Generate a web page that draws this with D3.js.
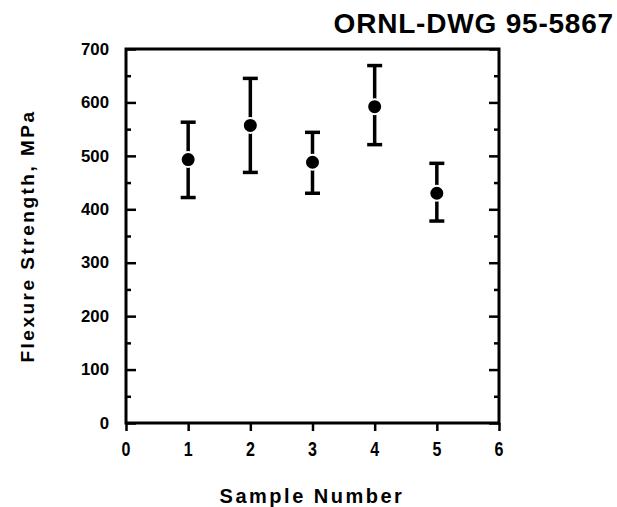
<!DOCTYPE html>
<html>
<head>
<meta charset="utf-8">
<script src="https://cdn.jsdelivr.net/npm/d3@7"></script>
<style>
  body { margin: 0; background: #fff; }
  text { font-family: "Liberation Sans", Arial, sans-serif; font-weight: bold; fill: #000; }
</style>
</head>
<body>
<div id="chart"></div>
<script>
// sample data
var samples = [1, 2, 3, 4, 5];
var strength = [493, 557, 488, 592, 430];
var upper = [563, 645, 544, 669, 486];
var lower = [422, 469, 430, 521, 378];

var xTicks = [0, 1, 2, 3, 4, 5, 6];
var yTicks = [0, 100, 200, 300, 400, 500, 600, 700];
var yMinor = [50, 150, 250, 350, 450, 550, 650];

var W = 617, H = 507;
// plot box edges (note: "top" is taken by window.top)
var plotL = 126, plotR = 499, plotT = 49, plotB = 423;

var svg = d3.select("#chart").append("svg")
    .attr("width", W)
    .attr("height", H);

var x = d3.scaleLinear().domain([0, 6]).range([plotL, plotR]);
var y = d3.scaleLinear().domain([0, 700]).range([plotB, plotT]);

function tickGroup(axis, tx, ty) {
  svg.append("g")
      .attr("transform", "translate(" + tx + "," + ty + ")")
      .call(axis)
      .call(g => g.select(".domain").remove())
      .selectAll("line").attr("stroke-width", 2.5);
}

// left axis, ticks pointing in
tickGroup(d3.axisRight(y).tickValues(yTicks).tickSize(10).tickFormat(""), plotL, 0);
tickGroup(d3.axisRight(y).tickValues(yMinor).tickSize(5).tickFormat(""), plotL, 0);
// right axis, ticks pointing in
tickGroup(d3.axisLeft(y).tickValues(yTicks).tickSize(10).tickFormat(""), plotR, 0);
tickGroup(d3.axisLeft(y).tickValues(yMinor).tickSize(5).tickFormat(""), plotR, 0);
// bottom ticks, small, pointing down
tickGroup(d3.axisBottom(x).tickValues(xTicks).tickSize(8).tickFormat(""), 0, plotB);

// frame
svg.append("rect")
    .attr("x", plotL)
    .attr("y", plotT)
    .attr("width", plotR - plotL)
    .attr("height", plotB - plotT)
    .attr("fill", "none")
    .attr("stroke", "#000")
    .attr("stroke-width", 3);

// tick labels
svg.selectAll(".ylab")
    .data(yTicks)
    .enter()
    .append("text")
    .attr("class", "ylab")
    .attr("text-anchor", "end")
    .attr("dy", "0.36em")
    .attr("font-size", 16)
    .attr("transform", d => "translate(109," + y(d) + ") scale(1.05,1)")
    .text(d => d);

svg.selectAll(".xlab")
    .data(xTicks)
    .enter()
    .append("text")
    .attr("class", "xlab")
    .attr("text-anchor", "middle")
    .attr("font-size", 20)
    .attr("transform", d => "translate(" + x(d) + ",456) scale(0.8,1)")
    .text(d => d);

// error bars
var bars = svg.append("g");
samples.forEach(function(s, i) {
  bars.append("line")
      .attr("x1", x(s)).attr("x2", x(s))
      .attr("y1", y(upper[i])).attr("y2", y(lower[i]))
      .attr("stroke", "#000").attr("stroke-width", 3.5);
  [upper[i], lower[i]].forEach(function(v) {
    bars.append("line")
        .attr("x1", x(s) - 7.5).attr("x2", x(s) + 7.5)
        .attr("y1", y(v)).attr("y2", y(v))
        .attr("stroke", "#000").attr("stroke-width", 3.5);
  });
});

// points
svg.selectAll(".pt")
    .data(samples)
    .enter()
    .append("circle")
    .attr("class", "pt")
    .attr("cx", d => x(d))
    .attr("cy", (d, i) => y(strength[i]))
    .attr("r", 7.5)
    .attr("fill", "#000")
    .attr("stroke", "#fff")
    .attr("stroke-width", 2);

// axis titles
svg.append("text")
    .attr("x", 312)
    .attr("y", 503)
    .attr("text-anchor", "middle")
    .attr("font-size", 20)
    .attr("letter-spacing", 2.5)
    .text("Sample Number");

svg.append("text")
    .attr("transform", "translate(34,236) rotate(-90)")
    .attr("text-anchor", "middle")
    .attr("font-size", 19)
    .attr("letter-spacing", 2.5)
    .text("Flexure  Strength,  MPa");

// drawing number
svg.append("text")
    .attr("x", 614)
    .attr("y", 33)
    .attr("text-anchor", "end")
    .attr("font-size", 28)
    .attr("letter-spacing", 0.8)
    .text("ORNL-DWG 95-5867");
</script>
</body>
</html>
